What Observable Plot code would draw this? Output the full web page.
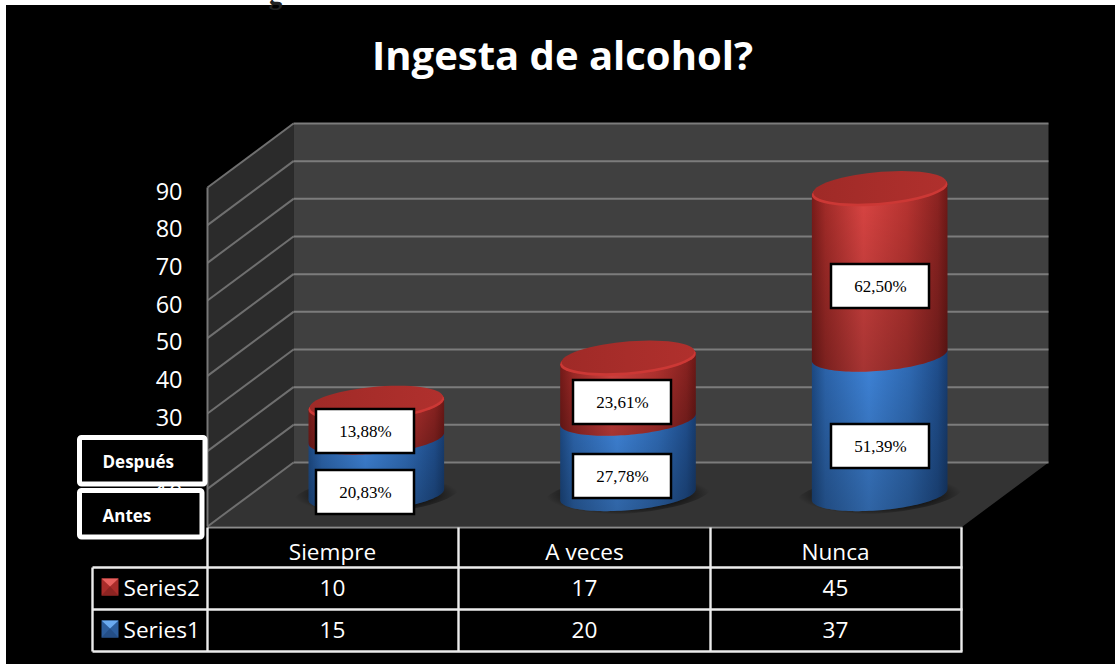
<!DOCTYPE html>
<html><head><meta charset="utf-8">
<script src="https://cdn.jsdelivr.net/npm/d3@7"></script>
<script src="https://cdn.jsdelivr.net/npm/@observablehq/plot@0.6"></script>
<style>html,body{margin:0;padding:0;background:#fff;overflow:hidden}svg{display:block}</style>
</head><body><div id="chart"></div>
<script>
const categories = ["Siempre", "A veces", "Nunca"];
const series1 = [15, 20, 37];
const series2 = [10, 17, 45];
const seriesNames = ["Series2", "Series1"];
const labels1 = ["20,83%", "27,78%", "51,39%"];
const labels2 = ["13,88%", "23,61%", "62,50%"];
const ticks = [0, 10, 20, 30, 40, 50, 60, 70, 80, 90];
const titleText = "Ingesta de alcohol?";
const legendBoxes = ["Después", "Antes"];

// Layout: the scales carry the front plane of the 3D box.
const W = 1115, H = 664;
const x0 = 207, x3 = 962, y0 = 526, y90 = 187;
const uX = (x3 - x0) / 3, uY = (y0 - y90) / 90;
const X = (p) => (p - x0) / uX, Y = (p) => (y0 - p) / uY;
const depthX = 86 / uX, depthY = 64 / uY;
const proj = (c, v, d) => ({x: c + depthX * d, y: v + depthY * d});
const FONT = "Open Sans";

const poly = (pts, fill, extra = {}) =>
  Plot.line(pts, {x: "x", y: "y", fill, stroke: "none", ...extra});
const seg = (pts, stroke, strokeWidth = 2) =>
  Plot.line(pts, {x: "x", y: "y", stroke, strokeWidth, strokeLinecap: "butt"});

// cylinder geometry
const R = 64 / uX, Q = 0.26, CD = 0.5, capDrop = 4 / uY;
const K = depthX * Q;
const T0 = Math.atan2(K, R);
const ell = (c, v, t, s = 1) => proj(c + R * s * Math.cos(t), v, CD + Q * s * Math.sin(t));
const arc = (c, v, a, b, s = 1) => d3.range(61).map(i => ell(c, v, a + (b - a) * i / 60, s));
const ring = (c, v, s = 1, off = 0) => arc(c, v, 0, 2 * Math.PI, s).map(p => ({x: p.x, y: p.y + off}));
const body = (c, a, b) => [...arc(c, a, T0, T0 - Math.PI), ...arc(c, b, T0 - Math.PI, T0 - 2 * Math.PI)];

const defs = () => {
  const svg = d3.create("svg:g");
  const d = svg.append("defs");
  const lin = (id, stops, vert = false) => {
    const g = d.append("linearGradient").attr("id", id)
      .attr("x1", 0).attr("y1", 0).attr("x2", vert ? 0 : 1).attr("y2", vert ? 1 : 0);
    stops.forEach(([o, c, a]) => g.append("stop").attr("offset", o).attr("stop-color", c).attr("stop-opacity", a ?? 1));
  };
  lin("redBody", [[0,"#7c1c1a"],[.1,"#a62c29"],[.38,"#df4644"],[.7,"#bd3532"],[.93,"#8f2422"],[1,"#701917"]]);
  lin("blueBody", [[0,"#1d4b86"],[.1,"#2d67b0"],[.42,"#4087de"],[.72,"#306db9"],[.93,"#205090"],[1,"#183e72"]]);
  lin("fade", [[0,"#000",0],[1,"#000",.26]], true);
  lin("redTop", [[0,"#9f2a27"],[.5,"#a82d2a"],[1,"#b0302d"]]);
  const r = d.append("radialGradient").attr("id", "shadow");
  [[0,.7],[.65,.6],[1,0]].forEach(([o,a]) => r.append("stop").attr("offset", o).attr("stop-color", "#000").attr("stop-opacity", a));
  return svg.node();
};

const marks = [defs];

// frame
marks.push(Plot.rect([0], {x1: X(6), x2: X(W), y1: Y(5), y2: Y(H), fill: "#000"}));
marks.push(Plot.text(["g"], {x: X(275), y: Y(-5), text: d => d, fontFamily: "Liberation Serif", fontWeight: "bold", fontSize: 27, fill: "#222", lineAnchor: "middle"}));
marks.push(Plot.text([titleText], {x: X(562), y: Y(57), text: d => d, fontFamily: FONT, fontWeight: "bold", fontSize: 40, fill: "#fff"}));

// walls
marks.push(poly([proj(0,0,0), proj(0,90,0), proj(0,90,1), proj(0,0,1)], "#2b2b2b"));
marks.push(poly([proj(0,0,1), proj(0,90,1), proj(3,90,1), proj(3,0,1)], "#404040"));
marks.push(poly([proj(0,0,0), proj(0,0,1), proj(3,0,1), proj(3,0,0)], "#333333"));
ticks.forEach(v => {
  marks.push(seg([proj(0,v,0), proj(0,v,1)], "#6f6f6f", 2));
  marks.push(seg([proj(0,v,1), proj(3,v,1)], "#7c7c7c", 2));
});
marks.push(seg([proj(0,0,0), proj(0,90,0)], "#777", 2));

// axis labels
marks.push(Plot.text(ticks, {x: X(182), y: d => d - 4.5 / uY, text: d => String(d), textAnchor: "end", fontFamily: FONT, fontSize: 23.5, fill: "#fff"}));

// cylinders
categories.forEach((_, i) => {
  const c = i + 0.5, a = series1[i], b = a + series2[i] - capDrop;
  marks.push(poly(ring(c, 0, 1.22), "url(#shadow)"));
  const bl = body(c, 0, a), rd = body(c, a, b);
  marks.push(poly(bl, "url(#blueBody)"), poly(bl, "url(#fade)"));
  marks.push(poly(rd, "url(#redBody)"), poly(rd, "url(#fade)"));
  marks.push(poly(ring(c, b), "#cc3835"));
  marks.push(poly(ring(c, b, 0.98, 0.6), "url(#redTop)"));
});

// percent label boxes
const boxCenters = [[365, 622, 880], [492, 476, 446], [431, 402, 286]];
[[labels1, 1], [labels2, 2]].forEach(([labels, row]) => {
  labels.forEach((t, i) => {
    const cx = boxCenters[0][i], cy = boxCenters[row][i];
    marks.push(Plot.rect([t], {x1: X(cx - 49), x2: X(cx + 49), y1: Y(cy - 22), y2: Y(cy + 22), fill: "#fff", stroke: "#000", strokeWidth: 2.5}));
    marks.push(Plot.text([t], {x: X(cx), y: Y(cy), text: d => d, fontFamily: "Liberation Serif", fontSize: 17, fill: "#000"}));
  });
});

// Antes / Después boxes
const legendGeom = [[79.5, 205, 437.5, 484, 102, 462], [79.5, 202, 490.5, 537, 102, 516]];
legendBoxes.forEach((t, i) => {
  const [a, b, c, e, tx, ty] = legendGeom[i];
  marks.push(Plot.rect([t], {x1: X(a), x2: X(b), y1: Y(c), y2: Y(e), fill: "#000", stroke: "#fff", strokeWidth: 5, r: 2}));
  marks.push(Plot.text([t], {x: X(tx), y: Y(ty), text: d => d, textAnchor: "start", fontFamily: FONT, fontWeight: "bold", fontSize: 17, fill: "#fff"}));
});

// data table
const rowLines = [567, 609, 651];
const colLines = [207, 458, 710, 961];
const LINE = "#ececec";
marks.push(seg([{x: X(207), y: Y(527)}, {x: X(962), y: Y(527)}], "#8c8c8c", 2));
rowLines.forEach(p => marks.push(seg([{x: X(92), y: Y(p)}, {x: X(962), y: Y(p)}], LINE, 2.4)));
colLines.forEach(p => marks.push(seg([{x: X(p), y: Y(527)}, {x: X(p), y: Y(651)}], LINE, 2.4)));
marks.push(seg([{x: X(92), y: Y(567)}, {x: X(92), y: Y(651)}], LINE, 2.4));
const colCenter = [332, 584, 835];
const tableText = {fontFamily: FONT, fontSize: 22.6, fill: "#fff"};
marks.push(Plot.text(categories, {x: (_, i) => X(colCenter[i]), y: Y(552), text: d => d, ...tableText}));
marks.push(Plot.text(series2, {x: (_, i) => X(colCenter[i]), y: Y(588), text: d => String(d), ...tableText}));
marks.push(Plot.text(series1, {x: (_, i) => X(colCenter[i]), y: Y(630), text: d => String(d), ...tableText}));
marks.push(Plot.text(seriesNames, {x: X(123), y: (_, i) => Y(i ? 630 : 588), text: d => d, textAnchor: "start", ...tableText}));

// bevelled legend keys
const keys = [["#a82c2a", "#e8605e", "#8c2422", 578], ["#2c5d9c", "#6aaaf0", "#244e86", 620]];
keys.forEach(([base, hi, lo, top]) => {
  const P = (a, b) => ({x: X(a), y: Y(b)});
  marks.push(poly([P(101, top), P(118, top), P(118, top + 17), P(101, top + 17)], base));
  marks.push(poly([P(101, top), P(118, top), P(109.5, top + 8)], hi));
  marks.push(poly([P(101, top + 17), P(118, top + 17), P(109.5, top + 8)], lo));
});

const chart = Plot.plot({
  width: W, height: H, margin: 0,
  style: {background: "#fff"},
  x: {domain: [0, 3], range: [x0, x3], axis: null},
  y: {domain: [0, 90], range: [y0, y90], axis: null},
  marks
});
document.getElementById("chart").append(chart);
</script></body></html>
